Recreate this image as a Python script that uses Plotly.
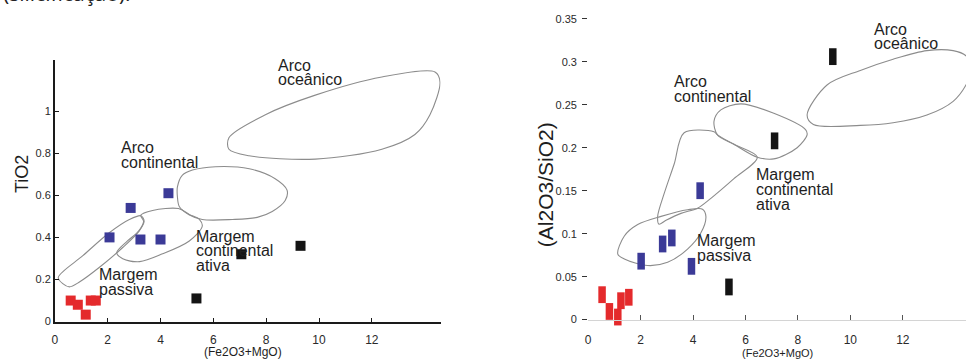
import plotly.graph_objects as go

W, H = 966, 362

# ---------------- data: left panel (TiO2 vs Fe2O3+MgO) ----------------
left_red_x = [0.60, 0.87, 1.17, 1.36, 1.55]
left_red_y = [0.10, 0.08, 0.033, 0.10, 0.10]
left_blue_x = [2.07, 2.87, 3.24, 4.00, 4.30]
left_blue_y = [0.40, 0.54, 0.39, 0.39, 0.61]
left_black_x = [5.36, 7.06, 9.30]
left_black_y = [0.11, 0.32, 0.36]

# field outlines
left_oceanic_x = [6.59, 7.97, 9.86, 12.38, 14.39, 14.58, 14.20, 13.63, 12.38, 9.86, 7.35, 6.59]
left_oceanic_y = [0.874, 0.983, 1.076, 1.162, 1.186, 1.139, 0.983, 0.889, 0.819, 0.772, 0.788, 0.819]
left_contarc_x = [4.64, 4.83, 5.21, 6.08, 7.36, 8.34, 8.79, 8.72, 8.23, 7.66, 6.72, 5.58, 5.08, 4.71, 4.64]
left_contarc_y = [0.640, 0.696, 0.720, 0.736, 0.726, 0.679, 0.625, 0.575, 0.523, 0.495, 0.485, 0.485, 0.508, 0.547, 0.593]
left_active_x = [3.25, 3.70, 4.68, 5.09, 5.47, 5.58, 5.09, 4.08, 3.21, 2.57, 2.34, 2.75, 3.17, 3.36]
left_active_y = [0.505, 0.528, 0.537, 0.509, 0.486, 0.453, 0.383, 0.322, 0.285, 0.299, 0.327, 0.383, 0.430, 0.477]
left_passive_x = [0.13, 1.06, 2.06, 2.82, 3.26, 3.38, 3.19, 2.57, 1.69, 0.93, 0.55, 0.30]
left_passive_y = [0.210, 0.313, 0.422, 0.485, 0.503, 0.477, 0.430, 0.352, 0.258, 0.188, 0.165, 0.180]

# ---------------- data: right panel (Al2O3/SiO2 vs Fe2O3+MgO) ----------------
right_red_x = [0.53, 0.81, 1.13, 1.25, 1.55]
right_red_y = [0.029, 0.0095, 0.003, 0.022, 0.026]
right_blue_x = [2.02, 2.84, 3.19, 3.94, 4.27]
right_blue_y = [0.068, 0.088, 0.095, 0.062, 0.150]
right_black_x = [5.37, 7.11, 9.33]
right_black_y = [0.038, 0.208, 0.306]

right_oceanic_x = [8.35, 9.11, 10.38, 11.63, 12.92, 13.92, 14.41, 14.64, 14.41, 13.92, 12.92, 11.63, 10.38, 8.59]
right_oceanic_y = [0.238, 0.273, 0.290, 0.303, 0.313, 0.313, 0.307, 0.292, 0.273, 0.254, 0.238, 0.229, 0.226, 0.227]
right_contarc_x = [5.82, 7.08, 8.29, 8.35, 7.97, 7.08, 6.45, 5.56, 4.93, 4.80, 5.06]
right_contarc_y = [0.251, 0.240, 0.221, 0.215, 0.200, 0.187, 0.189, 0.204, 0.215, 0.231, 0.244]
right_active_x = [3.66, 4.80, 4.93, 5.56, 6.45, 5.56, 4.68, 4.17, 3.54, 2.97, 2.70, 2.65, 2.90, 3.28]
right_active_y = [0.2174, 0.2185, 0.215, 0.204, 0.189, 0.164, 0.1411, 0.1296, 0.1236, 0.1156, 0.111, 0.1201, 0.1468, 0.1811]
right_passive_x = [1.13, 1.38, 1.89, 2.78, 3.79, 4.36, 4.49, 4.30, 3.79, 3.03, 2.27, 1.38]
right_passive_y = [0.0763, 0.0973, 0.1106, 0.1201, 0.1278, 0.1285, 0.1201, 0.101, 0.082, 0.0667, 0.0629, 0.0706]

x_ticks = [0, 2, 4, 6, 8, 10, 12]
left_y_ticks = [0, 0.2, 0.4, 0.6, 0.8, 1]
left_y_ticktext = ["0", "0.2", "0.4", "0.6", "0.8", "1"]
right_y_ticks = [0, 0.05, 0.1, 0.15, 0.2, 0.25, 0.3, 0.35]
right_y_ticktext = ["0", "0.05", "0.1", "0.15", "0.2", "0.25", "0.3", "0.35"]

RED = "#e42a2c"
BLUE = "#3b3a97"
BLACK = "#141414"
OUTLINE = "#8c8c8c"

fig = go.Figure()


def outline(xs, ys, xa, ya):
    fig.add_trace(go.Scatter(
        x=list(xs) + [xs[0]], y=list(ys) + [ys[0]], mode="lines",
        line=dict(color=OUTLINE, width=1.1, shape="spline", smoothing=0.9),
        xaxis=xa, yaxis=ya, hoverinfo="skip", showlegend=False))


for xs, ys in [(left_oceanic_x, left_oceanic_y), (left_contarc_x, left_contarc_y),
               (left_active_x, left_active_y), (left_passive_x, left_passive_y)]:
    outline(xs, ys, "x", "y")
for xs, ys in [(right_oceanic_x, right_oceanic_y), (right_contarc_x, right_contarc_y),
               (right_active_x, right_active_y), (right_passive_x, right_passive_y)]:
    outline(xs, ys, "x2", "y2")

for xs, ys, c in [(left_red_x, left_red_y, RED), (left_blue_x, left_blue_y, BLUE),
                  (left_black_x, left_black_y, BLACK)]:
    fig.add_trace(go.Scatter(x=xs, y=ys, mode="markers", xaxis="x", yaxis="y",
                             marker=dict(symbol="square", size=10, color=c, line=dict(width=0)),
                             showlegend=False, cliponaxis=False))

for xs, ys, c in [(right_red_x, right_red_y, RED), (right_blue_x, right_blue_y, BLUE),
                  (right_black_x, right_black_y, BLACK)]:
    fig.add_trace(go.Scatter(x=xs, y=ys, mode="markers", xaxis="x2", yaxis="y2",
                             marker=dict(symbol="line-ns", size=12, color=c,
                                         line=dict(width=7.5, color=c)),
                             showlegend=False, cliponaxis=False))

TXT = "#1e1e1e"
FAM = "Liberation Sans, Arial, sans-serif"
LBL_FONT = dict(family=FAM, size=16, color=TXT)
annotations = []


def px(xp):
    return xp / W


def py(yp):
    return 1 - yp / H


def label(lines, left, baselines):
    for t, b in zip(lines, baselines):
        annotations.append(dict(text=t, xref="paper", yref="paper", x=px(left), y=py(b - 5),
                                xanchor="left", yanchor="middle", showarrow=False,
                                font=LBL_FONT, borderpad=0))


label(["Arco", "oceânico"], 275, [72, 86])
label(["Arco", "continental"], 117, [155, 170])
label(["Margem", "continental", "ativa"], 193, [245, 260, 275])
label(["Margem", "passiva"], 95, [284, 299])

label(["Arco", "oceânico"], 873, [35, 49])
label(["Arco", "continental"], 672, [88, 103])
label(["Margem", "continental", "ativa"], 754, [182, 198, 213])
label(["Margem", "passiva"], 695, [250, 265])


def title(text, xp, yp, size, angle=0):
    annotations.append(dict(text=text, xref="paper", yref="paper", x=px(xp), y=py(yp),
                            xanchor="center", yanchor="middle", textangle=angle,
                            showarrow=False, font=dict(family=FAM, size=size, color=TXT)))


title("TiO2", 19, 177, 18, -90)
title("(Al2O3/SiO2)", 545, 188, 21, -90)
title("(Fe2O3+MgO)", 241, 358, 12)
title("(Fe2O3+MgO)", 777, 359, 11)

# clipped line of document text at the very top
annotations.append(dict(text="(silicificação).", xref="paper", yref="paper", x=px(-2), y=py(9),
                        xanchor="left", yanchor="bottom", showarrow=False,
                        font=dict(family="Open Sans, sans-serif", size=21, color="#222")))

TICKFONT = dict(family=FAM, size=12, color="#2a2a2a")

fig.update_layout(
    width=W, height=H, margin=dict(l=0, r=0, t=0, b=0),
    paper_bgcolor="white", plot_bgcolor="white",
    showlegend=False, annotations=annotations,
    xaxis=dict(domain=[px(52), px(52 + 14.6 * 26.5)], range=[0, 14.6], anchor="y",
               showline=True, linecolor="#1a1a1a", linewidth=1.6, ticks="inside",
               ticklen=4, tickcolor="#1a1a1a", tickvals=x_ticks, tickfont=TICKFONT,
               showgrid=False, zeroline=False, ticklabelstandoff=6),
    yaxis=dict(domain=[py(327), py(61)], range=[0, 1.243], anchor="x",
               showline=True, linecolor="#1a1a1a", linewidth=1.6, ticks="inside",
               ticklen=4, tickcolor="#1a1a1a", tickvals=left_y_ticks, ticktext=left_y_ticktext,
               tickfont=dict(family=FAM, size=11, color="#2a2a2a"),
               showgrid=False, zeroline=False),
    xaxis2=dict(domain=[px(587), 1.0], range=[0, 379 / 26.3], anchor="y2",
                showline=True, linecolor="#d4d4d4", linewidth=1, ticks="inside",
                ticklen=5, tickcolor="#555", tickvals=x_ticks, tickfont=TICKFONT,
                showgrid=False, zeroline=False, ticklabelstandoff=9),
    yaxis2=dict(domain=[py(325), py(10.4)], range=[0, 0.36], anchor="x2",
                showline=False, ticks="outside", ticklen=5, tickcolor="#333",
                tickvals=right_y_ticks, ticktext=right_y_ticktext,
                tickfont=dict(family=FAM, size=11, color="#2a2a2a"),
                showgrid=False, zeroline=False, ticklabelstandoff=3),
)

fig.write_html("out.html")
